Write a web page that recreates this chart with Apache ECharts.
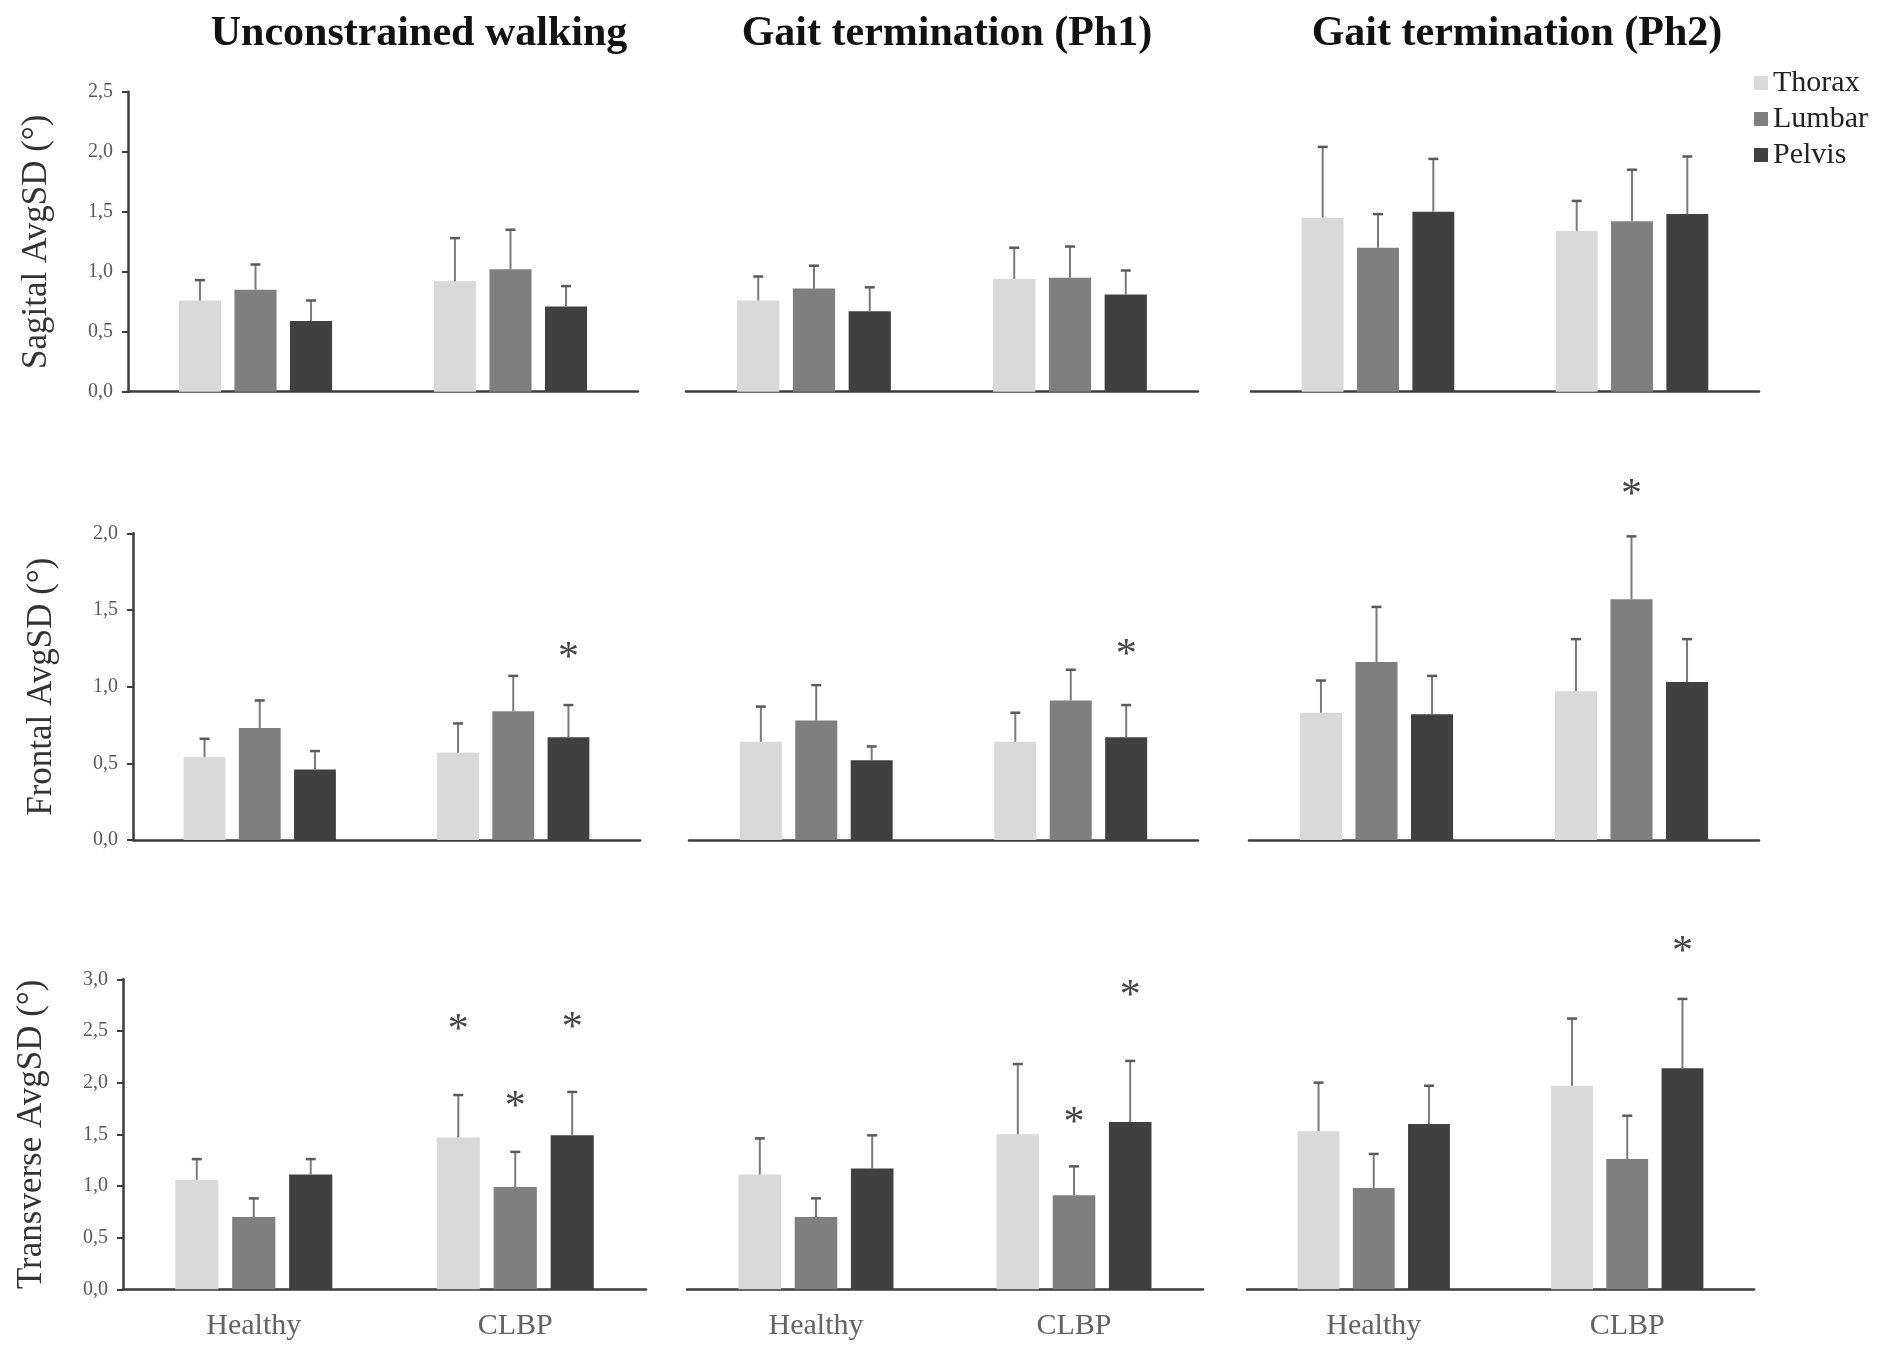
<!DOCTYPE html>
<html>
<head>
<meta charset="utf-8">
<script src="https://cdn.jsdelivr.net/npm/echarts@6/dist/echarts.min.js"></script>
<style>
  html, body { margin: 0; padding: 0; background: #fff; }
  #chart { width: 1881px; height: 1347px; }
</style>
</head>
<body>
<div id="chart"></div>
<script>
// ---------- data ----------
const categories = ['Healthy', 'CLBP'];
const segments = ['Thorax', 'Lumbar', 'Pelvis'];
const conditions = ['Unconstrained walking', 'Gait termination (Ph1)', 'Gait termination (Ph2)'];
const planes = ['Sagital AvgSD (°)', 'Frontal AvgSD (°)', 'Transverse AvgSD (°)'];
const planeMax = [2.5, 2.0, 3.0];
const tickInterval = 0.5;

// means: rows = Thorax, Lumbar, Pelvis ; columns = Healthy, CLBP
const sagWalkMean = [[0.76, 0.92], [0.85, 1.02], [0.59, 0.71]];
const sagWalkSD   = [[0.17, 0.36], [0.21, 0.33], [0.17, 0.17]];
const sagPh1Mean  = [[0.76, 0.94], [0.86, 0.95], [0.67, 0.81]];
const sagPh1SD    = [[0.20, 0.26], [0.19, 0.26], [0.20, 0.20]];
const sagPh2Mean  = [[1.45, 1.34], [1.20, 1.42], [1.50, 1.48]];
const sagPh2SD    = [[0.59, 0.25], [0.28, 0.43], [0.44, 0.48]];

const froWalkMean = [[0.54, 0.57], [0.73, 0.84], [0.46, 0.67]];
const froWalkSD   = [[0.12, 0.19], [0.18, 0.23], [0.12, 0.21]];
const froPh1Mean  = [[0.64, 0.64], [0.78, 0.91], [0.52, 0.67]];
const froPh1SD    = [[0.23, 0.19], [0.23, 0.20], [0.09, 0.21]];
const froPh2Mean  = [[0.83, 0.97], [1.16, 1.57], [0.82, 1.03]];
const froPh2SD    = [[0.21, 0.34], [0.36, 0.41], [0.25, 0.28]];

const traWalkMean = [[1.06, 1.47], [0.70, 0.99], [1.11, 1.49]];
const traWalkSD   = [[0.20, 0.41], [0.18, 0.34], [0.15, 0.42]];
const traPh1Mean  = [[1.11, 1.50], [0.70, 0.91], [1.17, 1.62]];
const traPh1SD    = [[0.35, 0.68], [0.18, 0.28], [0.32, 0.59]];
const traPh2Mean  = [[1.53, 1.97], [0.98, 1.26], [1.60, 2.14]];
const traPh2SD    = [[0.47, 0.65], [0.33, 0.42], [0.37, 0.67]];

// significance stars: [category index, height, segment index]
const sagWalkStars = [];
const sagPh1Stars  = [];
const sagPh2Stars  = [];
const froWalkStars = [[1, 1.22, 2]];
const froPh1Stars  = [[1, 1.24, 2]];
const froPh2Stars  = [[1, 2.28, 1]];
const traWalkStars = [[1, 2.56, 0], [1, 1.81, 1], [1, 2.58, 2]];
const traPh1Stars  = [[1, 1.66, 1], [1, 2.89, 2]];
const traPh2Stars  = [[1, 3.31, 2]];

// ---------- layout / style ----------
const colors = ['#d9d9d9', '#7f7f7f', '#404040'];
const FONT = 'Liberation Serif';
const BAR_W = 0.165, BAR_GAP = 0.32;

const rowY = [[91.7, 391.7], [533.3, 840], [979.3, 1289.3]];
const colX = [
  [[128, 638], [686, 1198], [1251, 1759]],
  [[133, 640], [689, 1198], [1249, 1759]],
  [[123, 646], [687, 1203], [1247, 1754]]
];
const titleX = [414, 942, 1512];

const panelMeans = [[sagWalkMean, sagPh1Mean, sagPh2Mean], [froWalkMean, froPh1Mean, froPh2Mean], [traWalkMean, traPh1Mean, traPh2Mean]];
const panelSDs   = [[sagWalkSD, sagPh1SD, sagPh2SD], [froWalkSD, froPh1SD, froPh2SD], [traWalkSD, traPh1SD, traPh2SD]];
const panelStars = [[sagWalkStars, sagPh1Stars, sagPh2Stars], [froWalkStars, froPh1Stars, froPh2Stars], [traWalkStars, traPh1Stars, traPh2Stars]];

const grid = [], xAxis = [], yAxis = [], series = [];
const title = conditions.map((c, i) => ({
  text: c, left: titleX[i], top: 8, textAlign: 'center',
  textStyle: { fontFamily: FONT, fontWeight: 'bold', fontSize: 42, color: '#111' }
}));

function barOffset(band, k) {
  const w = band * BAR_W, g = w * BAR_GAP;
  return (k - 1) * (w + g);
}

let gi = 0;
for (let r = 0; r < 3; r++) {
  for (let c = 0; c < 3; c++) {
    const [x0, x1] = colX[r][c];
    const [y0, y1] = rowY[r];
    grid.push({ left: x0, top: y0, width: x1 - x0, height: y1 - y0 });
    xAxis.push({
      type: 'category', gridIndex: gi, data: categories,
      axisLine: { show: true, lineStyle: { color: '#3c3c3c', width: 2.5 } },
      axisTick: { show: false },
      axisLabel: { show: r === 2, fontFamily: FONT, fontSize: 30, color: '#636363', margin: 22 },
      splitLine: { show: false }
    });
    yAxis.push({
      type: 'value', gridIndex: gi, min: 0, max: planeMax[r], interval: tickInterval,
      show: c === 0,
      name: c === 0 ? planes[r] : '',
      nameLocation: 'middle', nameRotate: 90, nameGap: 74,
      nameTextStyle: { fontFamily: FONT, fontSize: 35, color: '#333' },
      axisLine: { show: true, lineStyle: { color: '#3c3c3c', width: 2.5 } },
      axisTick: { show: true, inside: false, length: 6, lineStyle: { color: '#3c3c3c', width: 2 } },
      axisLabel: { fontFamily: FONT, fontSize: 20, color: '#595959', margin: 15,
        formatter: v => v.toFixed(1).replace('.', ',') },
      splitLine: { show: false }
    });
    const means = panelMeans[r][c], sds = panelSDs[r][c];
    for (let k = 0; k < 3; k++) {
      series.push({
        name: segments[k], type: 'bar', xAxisIndex: gi, yAxisIndex: gi,
        data: means[k], barWidth: (BAR_W * 100) + '%', barGap: (BAR_GAP * 100) + '%',
        itemStyle: { color: colors[k] }, silent: true
      });
    }
    for (let k = 0; k < 3; k++) {
      const kk = k;
      series.push({
        type: 'custom', xAxisIndex: gi, yAxisIndex: gi, silent: true, z: 3,
        data: means[k].map((m, i) => [i, m, m + sds[k][i]]),
        renderItem: (params, api) => {
          const i = api.value(0);
          const lo = api.coord([i, api.value(1)]);
          const hi = api.coord([i, api.value(2)]);
          const band = api.size([1, 0])[0];
          const x = lo[0] + barOffset(band, kk);
          return {
            type: 'group', children: [
              { type: 'line', shape: { x1: x, y1: lo[1], x2: x, y2: hi[1] }, style: { stroke: '#7a7a7a', lineWidth: 2 } },
              { type: 'line', shape: { x1: x - 5, y1: hi[1], x2: x + 5, y2: hi[1] }, style: { stroke: '#5a5a5a', lineWidth: 2.5 } }
            ]
          };
        }
      });
    }
    const stars = panelStars[r][c];
    if (stars.length) {
      series.push({
        type: 'custom', xAxisIndex: gi, yAxisIndex: gi, silent: true, clip: false, z: 4,
        data: stars,
        renderItem: (params, api) => {
          const i = api.value(0);
          const p = api.coord([i, api.value(1)]);
          const band = api.size([1, 0])[0];
          const x = p[0] + barOffset(band, api.value(2));
          return {
            type: 'text',
            style: { text: '*', x: x, y: p[1] + 6, fontSize: 42, fontFamily: FONT, fill: '#454545', align: 'center', verticalAlign: 'middle' }
          };
        }
      });
    }
    gi++;
  }
}

const chart = echarts.init(document.getElementById('chart'), null, { renderer: 'canvas' });
chart.setOption({
  backgroundColor: '#fff',
  animation: false,
  title,
  legend: {
    data: segments, orient: 'vertical', left: 1749, top: 63,
    itemWidth: 14, itemHeight: 14, itemGap: 6, icon: 'rect', selectedMode: false,
    textStyle: { fontFamily: FONT, fontSize: 30, color: '#222', lineHeight: 30 }
  },
  grid, xAxis, yAxis, series
});
</script>
</body>
</html>
